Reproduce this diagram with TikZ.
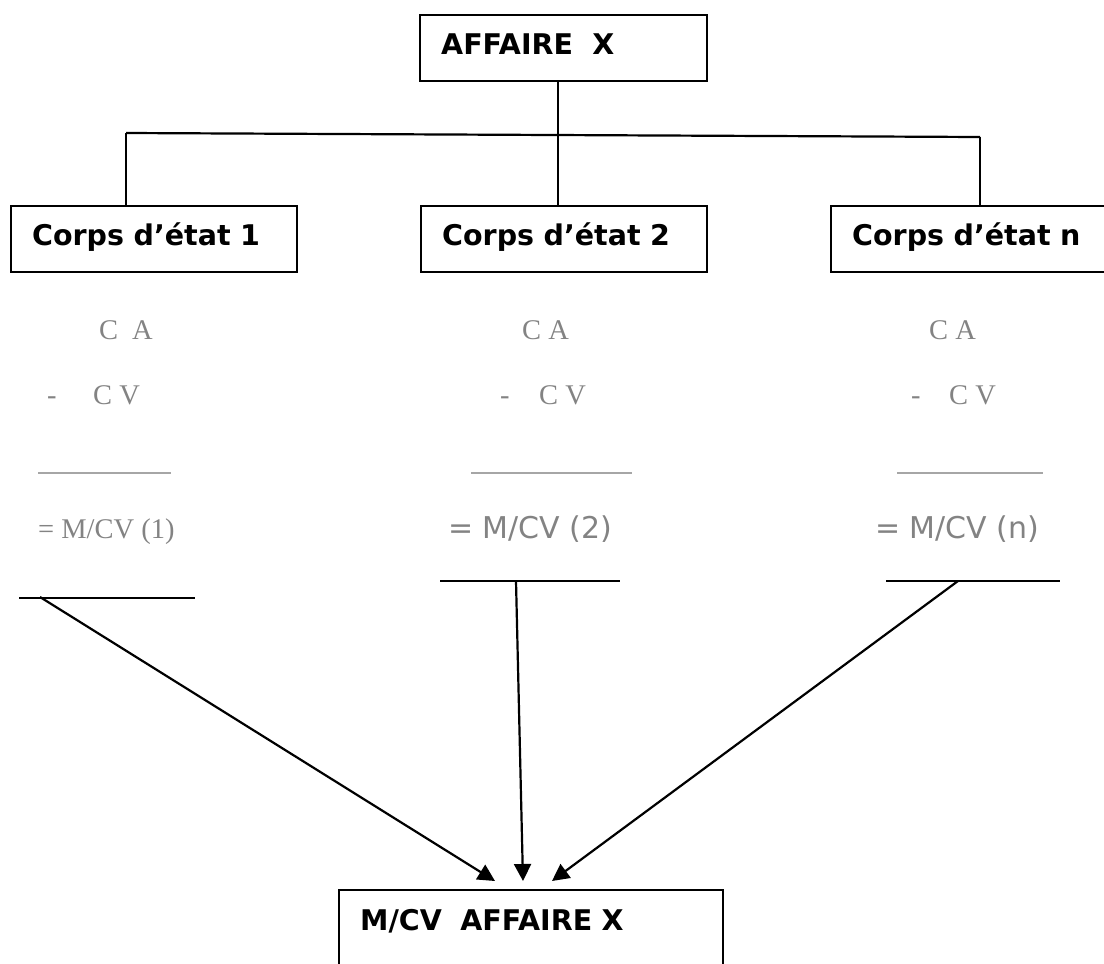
\documentclass[tikz,border=0pt]{standalone}
\usepackage{fontspec}
\setmainfont{Liberation Serif}
\newfontfamily\boxfont{DejaVu Sans}
\usetikzlibrary{arrows.meta,calc}
\definecolor{calcgray}{HTML}{838383}
\definecolor{rulegray}{HTML}{A6A6A6}
\begin{document}
\begin{tikzpicture}[x=1pt,y=-1pt,
  box/.style={draw, line width=2.4pt, inner xsep=21pt, inner ysep=0pt,
    text height=21pt, text depth=8pt, align=left, anchor=north west,
    minimum height=66pt, font=\boxfont\bfseries\fontsize{28.5}{30}\selectfont},
  calcline/.style={text=calcgray, anchor=base west, inner sep=0pt,
    font=\fontsize{28.5}{30}\selectfont},
  calcsans/.style={calcline, font=\boxfont\fontsize{30}{32}\selectfont},
  link/.style={line width=2.2pt},
  underline/.style={line width=2.2pt},
  graterule/.style={draw=rulegray, line width=1.3pt},
  feed/.style={line width=2.2pt, -{Triangle[length=17pt,width=17pt]}}
]
\begin{scope}
\clip (0,0) rectangle (1104,964);

% project and trade boxes
\node[box, text width=245pt] (top) at (419,14) {AFFAIRE\hspace{10pt} X};
\node[box, text width=244pt] (c1) at (10,205) {Corps d’état 1};
\node[box, text width=244pt] (c2) at (420,205) {Corps d’état 2};
\node[box, text width=250pt] (cn) at (830,205) {Corps d’état n};

% tree connectors
\coordinate (hl) at (126,133);
\coordinate (hr) at (980,137);
\coordinate (trunk) at (558,133);
\draw[link] (hl) -- (hr);
\draw[link] (top.south -| trunk) -- (c2.north -| trunk);
\draw[link] (hl) -- (hl |- c1.north);
\draw[link] (hr) -- (hr |- cn.north);

% margin calculation, trade 1
\node[calcline] (ca1) at (99,339) {C\hspace{14pt}A};
\node[calcline] (m1) at (47,404) {-};
\node[calcline] (cv1) at (93,404) {C V};
\draw[graterule] (38,473) -- (171,473);
\node[calcline] (r1) at (38,538) {= M/CV (1)};

% margin calculation, trade 2
\node[calcline] (ca2) at (522,339) {C A};
\node[calcline] (m2) at (500,404) {-};
\node[calcline] (cv2) at (539,404) {C V};
\draw[graterule] (471,473) -- (632,473);
\node[calcsans] (r2) at (448,538) {= M/CV (2)};

% margin calculation, trade n
\node[calcline] (can) at (929,339) {C A};
\node[calcline] (mn) at (911,404) {-};
\node[calcline] (cvn) at (949,404) {C V};
\draw[graterule] (897,473) -- (1043,473);
\node[calcsans] (rn) at (875,538) {= M/CV (n)};

% result box, open at the bottom of the page
\node[box, minimum height=0pt, inner ysep=19pt, text depth=80pt, text width=342pt]
  (res) at (338,889) {M/CV\hspace{9pt} AFFAIRE X};

% totals lines and arrows into the result
\coordinate (u1a) at (19,598);  \coordinate (u1b) at (195,598);
\coordinate (u2a) at (440,581); \coordinate (u2b) at (620,581);
\coordinate (una) at (886,581); \coordinate (unb) at (1060,581);
\draw[underline] (u1a) -- (u1b);
\draw[underline] (u2a) -- (u2b);
\draw[underline] (una) -- (unb);

\coordinate (s1) at (40,597);
\coordinate (s2) at (516,581);
\coordinate (sn) at (958,581);
\coordinate (t1) at ($(res.north west)+(157,-8)$);
\coordinate (t2) at ($(res.north west)+(185,-8)$);
\coordinate (tn) at ($(res.north west)+(214,-8)$);
\draw[feed] (s1) -- (t1);
\draw[feed] (s2) -- (t2);
\draw[feed] (sn) -- (tn);
\end{scope}
\pgfresetboundingbox
\useasboundingbox (0,0) rectangle (1104,964);
\end{tikzpicture}
\end{document}
